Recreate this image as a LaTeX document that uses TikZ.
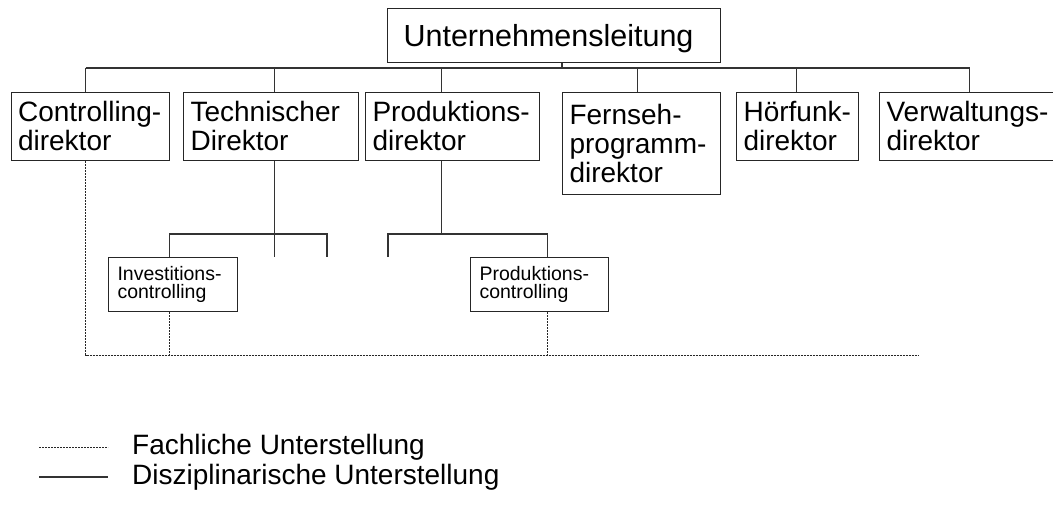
\documentclass[tikz,border=0pt]{standalone}
\usepackage{fontspec}
\setmainfont{Liberation Sans}
\hyphenpenalty=10000
\newcommand{\boxfont}{\fontsize{28pt}{29pt}\selectfont}
\newcommand{\topfont}{\fontsize{30.5pt}{31pt}\selectfont}
\newcommand{\subfont}{\fontsize{19.5pt}{18.5pt}\selectfont}

\tikzset{
  orgbox/.style={draw=black!85, line width=1.1pt, rectangle, anchor=north west,
    align=left, inner xsep=7pt, inner ysep=0pt, font=\boxfont},
  subbox/.style={orgbox, inner xsep=9pt, font=\subfont},
  legend/.style={anchor=west, inner sep=0pt, font=\boxfont},
  disz/.style={draw=black!80, line width=1.1pt},
  fach/.style={draw=black!85, line width=0.9pt, dash pattern=on 2pt off 1pt},
}

\begin{document}
\begin{tikzpicture}[x=1pt,y=-1pt]
  \useasboundingbox (0,0) rectangle (1053,506);

  % Leitung
  \node[orgbox, font=\topfont, inner xsep=16pt, text width=301pt,
    minimum height=54pt, text depth=0pt] (leitung) at (387,8) {Unternehmensleitung};

  % Direktoren
  \node[orgbox, text width=144.5pt, minimum height=68.5pt] (ctrl) at (10.5,91.5) {Controlling-\\direktor};
  \node[orgbox, text width=161pt, minimum height=68.5pt] (tech) at (183,91.5) {Technischer\\Direktor};
  \node[orgbox, text width=160pt, minimum height=68.5pt] (prod) at (365,91.5) {Produktions-\\direktor};
  \node[orgbox, text width=144pt, minimum height=102pt] (fern) at (562,91.5) {Fernseh-\\programm-\\direktor};
  \node[orgbox, text width=108pt, minimum height=68.5pt] (hoer) at (736,91.5) {Hörfunk-\\direktor};
  \node[orgbox, text width=170pt, minimum height=68.5pt] (verw) at (879,91.5) {Verwaltungs-\\direktor};

  % Controlling-Stellen
  \node[subbox, text width=111pt, minimum height=54pt] (invest) at (108,257) {Investitions-\\controlling};
  \node[subbox, text width=120pt, minimum height=54pt] (pctrl) at (470,257) {Produktions-\\controlling};

  % disziplinarische Linien
  \coordinate (bus) at (562,68);
  \coordinate (ctrltop) at ([xshift=-4.75pt]ctrl.north);
  \coordinate (verwtop) at ([xshift=-2pt]verw.north);
  \draw[disz] (leitung.south -| bus) -- (bus);
  \foreach \n/\d in {ctrl/-4.75, tech/3.5, prod/-11, fern/-4, hoer/-1, verw/-2}
    \draw[disz] ([xshift=\d pt]\n.north) -- ++(0,-23.5);
  \draw[disz] (ctrltop |- bus) -- (verwtop |- bus);

  \coordinate (techbot) at ([xshift=3.5pt]tech.south);
  \coordinate (tast) at (techbot |- 0,234);
  \coordinate (tend) at (327,257);
  \coordinate (investtop) at ([xshift=-3.5pt]invest.north);
  \draw[disz] (techbot) -- (techbot |- invest.north);
  \draw[disz] (investtop) |- (tast) -| (tend);

  \coordinate (prodbot) at ([xshift=-11pt]prod.south);
  \coordinate (past) at (prodbot |- tast);
  \coordinate (pend) at (388,257);
  \coordinate (pctrltop) at ([xshift=8pt]pctrl.north);
  \draw[disz] (prodbot) -- (past);
  \draw[disz] (pend) |- (past) -| (pctrltop);

  % fachliche Linien
  \coordinate (fachbus) at (918,355);
  \coordinate (ctrlbot) at ([xshift=-4.75pt]ctrl.south);
  \coordinate (investbot) at ([xshift=-3.5pt]invest.south);
  \coordinate (pctrlbot) at ([xshift=8pt]pctrl.south);
  \draw[fach] (ctrlbot) |- (fachbus);
  \draw[fach] (investbot) -- (investbot |- fachbus);
  \draw[fach] (pctrlbot) -- (pctrlbot |- fachbus);

  % Legende
  \node[legend] (lfach) at (132,447) {Fachliche Unterstellung};
  \node[legend] (ldisz) at (132,477) {Disziplinarische Unterstellung};
  \draw[fach] ([xshift=-93pt]lfach.west) -- ([xshift=-24pt]lfach.west);
  \draw[disz] ([xshift=-93pt]ldisz.west) -- ([xshift=-24pt]ldisz.west);
\end{tikzpicture}
\end{document}
